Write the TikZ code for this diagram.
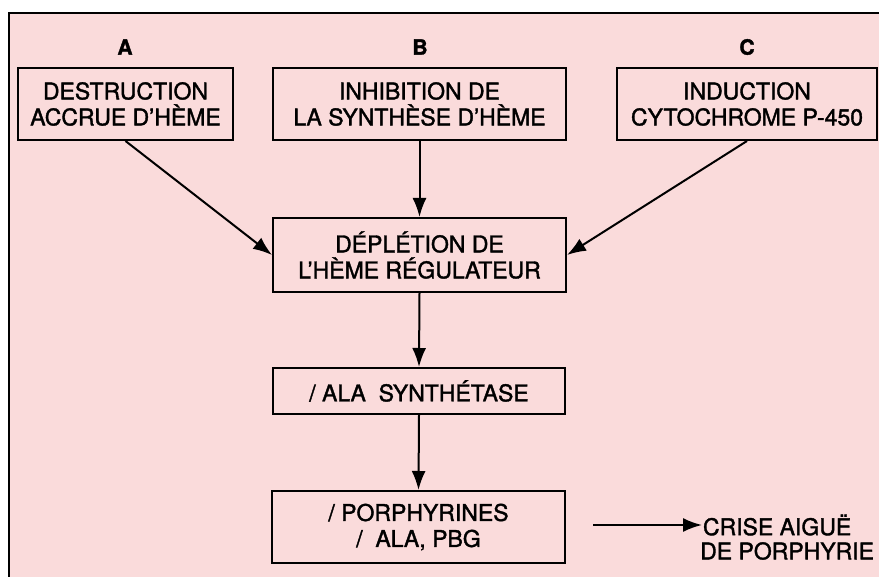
\documentclass[tikz,border=0pt]{standalone}
\usepackage{fontspec}
\setmainfont[FakeBold=1.6]{TeX Gyre Heros}
\usetikzlibrary{arrows.meta}
\definecolor{rose}{RGB}{250,219,219}

\begin{document}
\begin{tikzpicture}[x=1pt, y=-1pt, line width=2pt,
  every node/.style={font=\fontsize{23}{26}\selectfont, align=center, inner sep=0pt},
  box/.style={draw, minimum height=72pt},
  lettre/.style={font=\fontsize{21}{22}\selectfont\bfseries},
  fleche/.style={-{Latex[length=19pt,width=14pt]}}]
\useasboundingbox (0,0) rectangle (879,577);
\fill[rose] (9,13) rectangle (879,577);
\draw[line width=2.8pt] (879,13) -- (9,13) -- (9,577);
% les trois causes
\node[lettre] (lettreA) at (125,47) {A};
\node[lettre] (lettreB) at (420,47) {B};
\node[lettre] (lettreC) at (747,47) {C};
\node[box, minimum width=215pt] (destr) at (125.5,104) {DESTRUCTION\\ACCRUE D'HÈME};
\node[box, minimum width=293pt] (inhib) at (419.5,104) {INHIBITION DE\\LA SYNTHÈSE D'HÈME};
\node[box, minimum width=260pt] (induc) at (747,104) {INDUCTION\\CYTOCHROME P-450};
% la cascade
\node[box, minimum width=293pt, minimum height=74pt] (deplet) at (419.5,255) {DÉPLÉTION DE\\L'HÈME RÉGULATEUR};
\node[box, minimum width=292pt, minimum height=46pt] (alas) at (419,391) {/ ALA \ SYNTHÉTASE};
\node[box, minimum width=293pt] (porph) at (418.5,527) {/ PORPHYRINES\\/ \ ALA, PBG};
\node[anchor=west] (crise1) at (702,525) {CRISE AIGUË};
\node[anchor=east] (crise2) at (875,551) {DE PORPHYRIE};
\coordinate (depart) at (593,525);
\draw[fleche] (destr.south) -- (deplet.west);
\draw[fleche] (inhib.south) -- (deplet.north);
\draw[fleche] (induc.south) -- (deplet.east);
\draw[fleche] (deplet.south) -- (alas.north);
\draw[fleche] (alas.south) -- (porph.north);
\draw[fleche] (depart) -- (crise1.west);
\end{tikzpicture}
\end{document}
